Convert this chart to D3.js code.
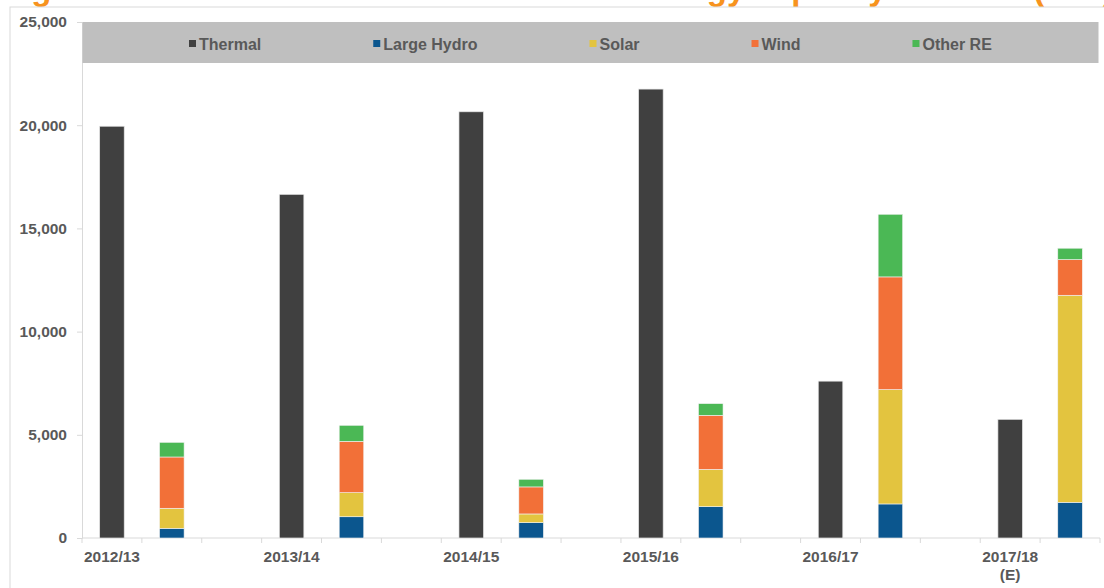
<!DOCTYPE html>
<html>
<head>
<meta charset="utf-8">
<script src="https://cdn.jsdelivr.net/npm/d3@7"></script>
<style>
  html, body { margin: 0; padding: 0; background: #fff; }
  svg { display: block; font-family: "Liberation Sans", Arial, sans-serif; }
</style>
</head>
<body>
<div id="chart"></div>
<script>
const years = ["2012/13", "2013/14", "2014/15", "2015/16", "2016/17", "2017/18"];
const yearNotes = ["", "", "", "", "", "(E)"];
const thermal = [19950, 16650, 20650, 21750, 7600, 5750];
const largeHydro = [470, 1030, 745, 1520, 1650, 1730];
const solar = [970, 1165, 420, 1805, 5540, 10030];
const wind = [2485, 2490, 1310, 2620, 5460, 1730];
const otherRE = [710, 775, 370, 565, 3035, 550];
const yTicks = [0, 5000, 10000, 15000, 20000, 25000];

const seriesNames = ["Thermal", "Large Hydro", "Solar", "Wind", "Other RE"];
const seriesColors = ["#404040", "#0b568e", "#e3c43f", "#f27038", "#4bb855"];
const title = "Figure 1: Annual thermal and renewable energy capacity addition (MW)";

const W = 1104, H = 588;
const plot = { left: 82, right: 1100, top: 22, bottom: 538 };
const gridColor = "#d9d9d9";
const textColor = "#595959";

const svg = d3.select("#chart").append("svg")
  .attr("width", W)
  .attr("height", H);

// title, mostly cut off above the top edge as in the source
svg.append("text")
  .attr("x", 2).attr("y", 0)
  .attr("fill", "#f7931e")
  .attr("font-size", "33px")
  .attr("font-weight", "bold")
  .text(title);

// chart frame
svg.append("rect")
  .attr("x", 10).attr("y", 7)
  .attr("width", 1300).attr("height", 700)
  .attr("fill", "none")
  .attr("stroke", gridColor);

// 3 slots per year (thermal, renewables, gap), no gap after the last year
const nSlots = years.length * 3 - 1;
const x = d3.scaleBand()
  .domain(d3.range(nSlots))
  .range([plot.left, plot.right])
  .paddingInner(0.59)
  .paddingOuter(0.295);
const step = x.step();

const y = d3.scaleLinear().domain([0, 25000]).range([plot.bottom, plot.top]);

// Y axis
svg.append("g")
  .attr("transform", `translate(${plot.left},0)`)
  .call(d3.axisLeft(y).tickValues(yTicks).tickSize(5).tickPadding(10).tickFormat(d3.format(",")))
  .call((g) => g.select(".domain").attr("stroke", gridColor))
  .call((g) => g.selectAll(".tick line").attr("stroke", gridColor))
  .selectAll("text")
  .attr("fill", textColor)
  .attr("font-size", "15.5px")
  .attr("font-weight", "bold")
  .attr("font-family", "Liberation Sans, Arial, sans-serif");

// X axis line + slot boundary ticks
svg.append("line")
  .attr("x1", plot.left).attr("x2", plot.right)
  .attr("y1", y(0)).attr("y2", y(0))
  .attr("stroke", gridColor);

svg.selectAll(".xtick")
  .data(d3.range(nSlots + 1))
  .join("line")
  .attr("class", "xtick")
  .attr("x1", (i) => plot.left + i * step)
  .attr("x2", (i) => plot.left + i * step)
  .attr("y1", y(0)).attr("y2", y(0) + 5)
  .attr("stroke", gridColor);

// Thermal bars
svg.selectAll(".thermal")
  .data(thermal)
  .join("rect")
  .attr("class", "thermal")
  .attr("x", (d, i) => x(i * 3))
  .attr("y", (d) => y(d))
  .attr("width", x.bandwidth())
  .attr("height", (d) => y(0) - y(d))
  .attr("fill", seriesColors[0])
  .attr("stroke", "#e6e6e6")
  .attr("stroke-width", 0.7);

// Renewable stacks
const reRows = years.map((yr, i) => ({
  i,
  "Large Hydro": largeHydro[i],
  "Solar": solar[i],
  "Wind": wind[i],
  "Other RE": otherRE[i]
}));
const stack = d3.stack().keys(seriesNames.slice(1))(reRows);

svg.selectAll(".layer")
  .data(stack)
  .join("g")
  .attr("class", "layer")
  .attr("fill", (d, k) => seriesColors[k + 1])
  .selectAll("rect")
  .data((d) => d)
  .join("rect")
  .attr("x", (d) => x(d.data.i * 3 + 1))
  .attr("y", (d) => y(d[1]))
  .attr("width", x.bandwidth())
  .attr("height", (d) => y(d[0]) - y(d[1]))
  .attr("stroke", "#f2f2f2")
  .attr("stroke-width", 0.6);

// Category labels
svg.selectAll(".xlabel")
  .data(years)
  .join("text")
  .attr("class", "xlabel")
  .attr("x", (d, i) => x(i * 3) + x.bandwidth() / 2)
  .attr("y", 557)
  .attr("dy", "0.35em")
  .attr("text-anchor", "middle")
  .attr("fill", textColor)
  .attr("font-size", "15.5px")
  .attr("font-weight", "bold")
  .text((d) => d);

svg.selectAll(".xnote")
  .data(yearNotes)
  .join("text")
  .attr("class", "xnote")
  .attr("x", (d, i) => x(i * 3) + x.bandwidth() / 2)
  .attr("y", 575)
  .attr("dy", "0.35em")
  .attr("text-anchor", "middle")
  .attr("fill", textColor)
  .attr("font-size", "15.5px")
  .attr("font-weight", "bold")
  .text((d) => d);

// Legend band
svg.append("rect")
  .attr("x", plot.left + 0.5).attr("y", plot.top)
  .attr("width", 1016).attr("height", 41)
  .attr("fill", "#bfbfbf");

const legend = svg.append("g");
let lx = 189;
seriesNames.forEach((name, k) => {
  legend.append("rect")
    .attr("x", lx).attr("y", 40)
    .attr("width", 7).attr("height", 7)
    .attr("fill", seriesColors[k]);
  const t = legend.append("text")
    .attr("x", lx + 10).attr("y", 49.5)
    .attr("fill", textColor)
    .attr("font-size", "16px")
    .attr("font-weight", "bold")
    .text(name);
  lx += 10 + t.node().getComputedTextLength() + 112;
});
</script>
</body>
</html>
